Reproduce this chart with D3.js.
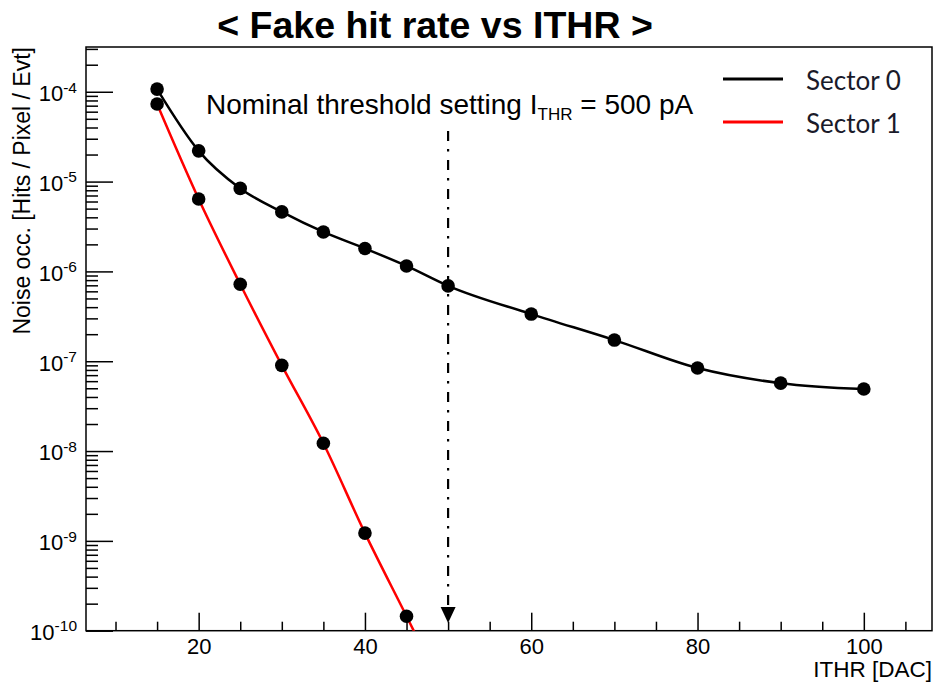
<!DOCTYPE html>
<html>
<head>
<meta charset="utf-8">
<title>Fake hit rate vs ITHR | D3</title>
<script src="https://d3js.org/d3.v7.min.js" charset="utf-8"></script>
<style>
body {
 margin: 0;
 background: white;
}
svg {
 display: block;
}
.tick text {
 font-family: "Liberation Sans", Arial, sans-serif;
 font-size: 22px;
 fill: #000;
}
.tick line {
 stroke: #000;
 stroke-width: 1.5;
}
</style>
</head>
<body>
<script>
// values
var ithr0 = [15, 20, 25, 30, 35, 40, 45, 50, 60, 70, 80, 90, 100];
var sector0 = [1.07e-4, 2.2e-5, 8.4e-6, 4.6e-6, 2.75e-6, 1.8e-6, 1.15e-6, 6.9e-7, 3.35e-7, 1.72e-7, 8.4e-8, 5.7e-8, 4.9e-8];
var ithr1 = [15, 20, 25, 30, 35, 40, 45, 50];
var sector1 = [7.3e-5, 6.4e-6, 7.2e-7, 9.0e-8, 1.22e-8, 1.22e-9, 1.45e-10, 1.7e-11];
var seriesNames = ["Sector 0", "Sector 1"];
var seriesColors = ["#000000", "#ff0000"];
var xMajorTicks = [20, 40, 60, 80, 100];
var xMinorTicks = [10, 15, 25, 30, 35, 45, 50, 55, 65, 70, 75, 85, 90, 95, 105];
var yDecades = [-10, -9, -8, -7, -6, -5, -4];
var nominalIthr = 50;

var width = 934;
var height = 684;
var plot = { left: 86, right: 932, top: 47, bottom: 630.7 };
var font = '"Liberation Sans", Arial, sans-serif';

var svg = d3.select("body")
 .append("svg")
 .attr("width", width)
 .attr("height", height);

svg.append("rect")
 .attr("width", width)
 .attr("height", height)
 .attr("fill", "white");

var x = d3.scaleLinear()
 .domain([6.45, 108.2])
 .range([plot.left, plot.right]);
var y = d3.scaleLog()
 .domain([1e-10, 3.15e-4])
 .range([plot.bottom, plot.top]);

svg.append("clipPath")
 .attr("id", "clip")
 .append("rect")
 .attr("x", plot.left)
 .attr("y", plot.top)
 .attr("width", plot.right - plot.left)
 .attr("height", plot.bottom - plot.top);

// title
svg.append("text")
 .attr("x", 435)
 .attr("y", 38)
 .attr("text-anchor", "middle")
 .style("font-family", font)
 .style("font-weight", "bold")
 .style("font-size", "37.5px")
 .text("< Fake hit rate vs ITHR >");

// x axis, ticks pointing inwards
var xAxis = svg.append("g")
 .attr("transform", "translate(0," + plot.bottom + ")")
 .call(d3.axisBottom(x)
  .tickValues(xMajorTicks)
  .tickSizeInner(-18)
  .tickSizeOuter(0)
  .tickPadding(8)
  .tickFormat(d3.format("d")));
xAxis.select(".domain").remove();

var xMinor = svg.append("g")
 .attr("transform", "translate(0," + plot.bottom + ")")
 .call(d3.axisBottom(x)
  .tickValues(xMinorTicks)
  .tickSizeInner(-9)
  .tickSizeOuter(0)
  .tickFormat(""));
xMinor.select(".domain").remove();

// y axis, log with 10^n labels
var yAxis = svg.append("g")
 .attr("transform", "translate(" + plot.left + ",0)")
 .call(d3.axisLeft(y)
  .tickValues(yDecades.map(function(e) { return Math.pow(10, e); }))
  .tickSizeInner(-27)
  .tickSizeOuter(0)
  .tickPadding(9));
yAxis.select(".domain").remove();
yAxis.selectAll(".tick text")
 .attr("dy", "0.4em")
 .each(function(d) {
  var t = d3.select(this).text("");
  t.append("tspan").text("10");
  t.append("tspan")
   .attr("dy", "-0.55em")
   .style("font-size", "15.5px")
   .text(Math.round(Math.log10(d)));
 });

var yMinorTicks = [];
yDecades.forEach(function(e) {
 for (var k = 2; k <= 9; k++) {
  var v = k * Math.pow(10, e);
  if (v <= y.domain()[1]) yMinorTicks.push(v);
 }
});
var yMinor = svg.append("g")
 .attr("transform", "translate(" + plot.left + ",0)")
 .call(d3.axisLeft(y)
  .tickValues(yMinorTicks)
  .tickSizeInner(-12)
  .tickSizeOuter(0)
  .tickFormat(""));
yMinor.select(".domain").remove();

// frame
svg.append("rect")
 .attr("x", plot.left)
 .attr("y", plot.top)
 .attr("width", plot.right - plot.left)
 .attr("height", plot.bottom - plot.top)
 .attr("fill", "none")
 .attr("stroke", "#000")
 .attr("stroke-width", 1.5);

// axis titles
svg.append("text")
 .attr("x", 932)
 .attr("y", 677)
 .attr("text-anchor", "end")
 .style("font-family", font)
 .style("font-size", "22.5px")
 .text("ITHR [DAC]");

svg.append("text")
 .attr("transform", "translate(30," + plot.top + ") rotate(-90)")
 .attr("text-anchor", "end")
 .style("font-family", font)
 .style("font-size", "23px")
 .text("Noise occ. [Hits / Pixel / Evt]");

// series
var series = [
 ithr0.map(function(v, i) { return [v, sector0[i]]; }),
 ithr1.map(function(v, i) { return [v, sector1[i]]; })
];
var line = d3.line()
 .x(function(d) { return x(d[0]); })
 .y(function(d) { return y(d[1]); })
 .curve(d3.curveMonotoneX);

var g = svg.append("g").attr("clip-path", "url(#clip)");

g.selectAll("path.series")
 .data(series)
 .enter()
 .append("path")
 .attr("class", "series")
 .attr("fill", "none")
 .attr("stroke", function(d, i) { return seriesColors[i]; })
 .attr("stroke-width", 2.5)
 .attr("d", line);

series.forEach(function(s) {
 g.selectAll(null)
  .data(s)
  .enter()
  .append("circle")
  .attr("cx", function(d) { return x(d[0]); })
  .attr("cy", function(d) { return y(d[1]); })
  .attr("r", 6.8)
  .attr("fill", "#000");
});

// nominal threshold marker
var xn = x(nominalIthr);
svg.append("line")
 .attr("x1", xn)
 .attr("x2", xn)
 .attr("y1", 131)
 .attr("y2", 610)
 .attr("stroke", "#000")
 .attr("stroke-width", 2.2)
 .attr("stroke-dasharray", "10,8,2.5,8.5");
svg.append("path")
 .attr("d", "M" + (xn - 7.5) + ",607L" + (xn + 7.5) + ",607L" + xn + ",623Z")
 .attr("fill", "#000");

var note = svg.append("text")
 .attr("x", 206)
 .attr("y", 114)
 .style("font-family", font)
 .style("font-size", "28px");
note.append("tspan").text("Nominal threshold setting I");
note.append("tspan").attr("dy", 6).style("font-size", "17px").text("THR");
note.append("tspan").attr("dy", -6).text(" = 500 pA");

// legend
var legend = svg.append("g");
seriesNames.forEach(function(name, i) {
 var ly = [79, 122][i];
 legend.append("line")
  .attr("x1", 723)
  .attr("x2", 783)
  .attr("y1", ly)
  .attr("y2", ly)
  .attr("stroke", seriesColors[i])
  .attr("stroke-width", 3);
 legend.append("text")
  .attr("x", 806)
  .attr("y", ly + 11)
  .style("font-family", "Lato, sans-serif")
  .style("font-size", "26px")
  .attr("fill", "#1a1a2a")
  .text(name);
});
</script>
</body>
</html>
